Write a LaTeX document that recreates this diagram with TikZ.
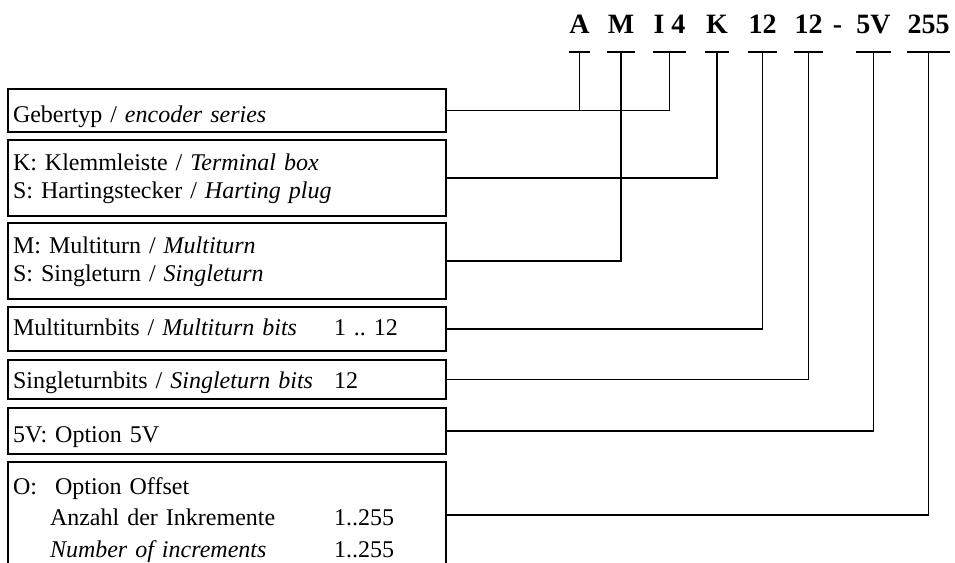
\documentclass[tikz,border=0pt]{standalone}
\usepackage{fontspec}
\setmainfont{Liberation Serif}
\frenchspacing
\usetikzlibrary{positioning}
\tikzset{
  every picture/.style={line width=1.3pt},
  code/.style={font=\fontsize{28}{30}\selectfont\bfseries, inner sep=0pt, anchor=base},
  box/.style={draw, line width=2pt, anchor=north west, align=left, text width=428pt,
    inner xsep=5pt, inner ysep=0pt, outer sep=0pt, font=\fontsize{24}{28.5}\selectfont},
  tick/.style={line width=1.3pt},
  wire/.style={line width=1.3pt},
}

\begin{document}
\begin{tikzpicture}[x=1pt, y=-1pt]
  \useasboundingbox (0,0) rectangle (955,562);

  % type code on top
  \node[code] (cA) at (579.5,33) {A};
  \node[code] (cM) at (621,33) {M};
  \node[code] (cI) at (669.5,33) {I 4};
  \node[code] (cK) at (717,33) {K};
  \node[code] (cMb) at (762.5,33) {12};
  \node[code] (cSb) at (808.5,33) {12};
  \node[code] (cdash) at (837.5,33) {-};
  \node[code] (cV) at (873.5,33) {5V};
  \node[code] (cO) at (928.5,33) {255};
  \coordinate (tk) at (0,52);
  \foreach \k in {cA,cM,cI,cK,cMb,cSb,cV,cO}
    \draw[tick] (\k.west |- tk) -- (\k.east |- tk);

  % option boxes
  \node[box, text height=33pt, text depth=10pt] (b1) at (8,89) {Gebertyp / \textit{encoder series}};
  \node[box, line width=2.6pt, text height=30pt, text depth=46pt, below=8pt of b1] (b2)
    {K: Klemmleiste / \textit{Terminal box}\\ S: Hartingstecker / \textit{Harting plug}};
  \node[box, text height=30pt, text depth=46pt, below=7pt of b2] (b3)
    {M: Multiturn / \textit{Multiturn}\\ S: Singleturn / \textit{Singleturn}};
  \node[box, text height=28pt, text depth=16pt, below=8pt of b3] (b4)
    {\makebox[321pt][l]{Multiturnbits / \textit{Multiturn bits}}1 .. 12};
  \node[box, text height=28pt, text depth=11pt, below=9pt of b4] (b5)
    {\makebox[321pt][l]{Singleturnbits / \textit{Singleturn bits}}12};
  \node[box, text height=34pt, text depth=12pt, below=9pt of b5] (b6) {5V: Option 5V};
  \node[box, text height=32pt, text depth=74pt, font=\fontsize{24}{31.5}\selectfont, below=8pt of b6] (b7)
    {\makebox[42pt][l]{O:}Option Offset\\
     \hspace*{37pt}\makebox[284pt][l]{Anzahl der Inkremente}1..255\\
     \hspace*{37pt}\makebox[284pt][l]{\textit{Number of increments}}1..255};

  % connectors
  \draw[wire] (b1.east) -| (cI |- tk);
  \draw[wire] (cA |- tk) -- (cA |- b1.east);
  \draw[wire] (b2.east) -| (cK |- tk);
  \draw[wire] (b3.east) -| (cM |- tk);
  \draw[wire] (b4.east) -| (cMb |- tk);
  \draw[wire] (b5.east) -| (cSb |- tk);
  \draw[wire] (b6.east) -| (cV |- tk);
  \draw[wire] (b7.east) -| (cO |- tk);
\end{tikzpicture}
\end{document}
